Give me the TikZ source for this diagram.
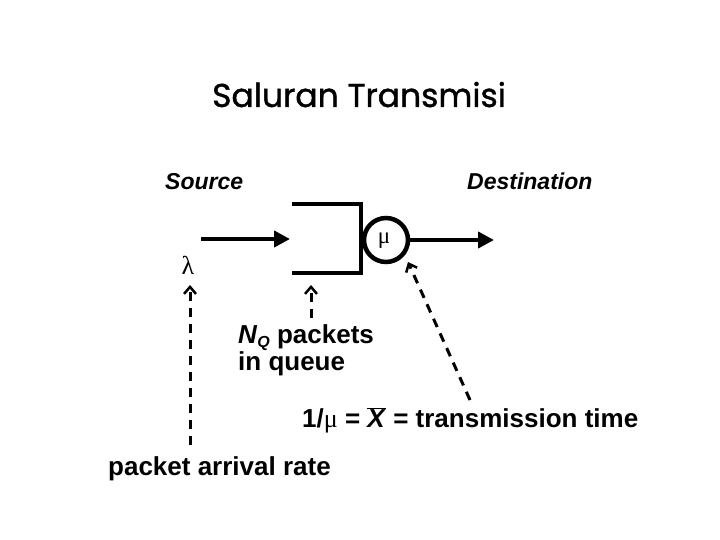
\documentclass[tikz,border=0pt]{standalone}
\usepackage{fontspec}
\setmainfont{Liberation Sans}
\newfontfamily\titlefont[FakeBold=1.2]{Poppins}
\newfontfamily\greekfont{Liberation Serif}
\usetikzlibrary{arrows.meta}
\tikzset{
  lbl/.style={font=\fontsize{26}{30}\selectfont\bfseries, inner sep=0pt, anchor=base west},
  ilbl/.style={font=\fontsize{23}{26}\selectfont\bfseries\itshape, inner sep=0pt, anchor=base west},
  thick line/.style={line width=4.5pt},
  solid arrow/.style={line width=4.5pt, -{Triangle[length=16pt,width=16pt]}},
  dash arrow/.style={line width=3pt, dash pattern=on 9pt off 7pt, -{Straight Barb[length=7pt,width=12pt,line width=2.5pt]}}
}
\begin{document}
\begin{tikzpicture}[x=1pt,y=-1pt]
\useasboundingbox (0,0) rectangle (720,540);
\node[font=\titlefont\fontsize{33}{38}\selectfont, inner sep=0pt, anchor=base] (title) at (359,107) {Saluran Transmisi};
\node[ilbl] (src) at (165,190) {Source};
\node[ilbl] (dst) at (467,190) {Destination};
% queue
\coordinate (qtl) at (292,204);
\coordinate (qtr) at (361,204);
\coordinate (qbr) at (361,273);
\coordinate (qbl) at (292,273);
\draw[thick line, line join=miter] (qtl) -- (qtr) -- (qbr) -- (qbl);
\node[circle, draw, line width=4.5pt, minimum size=44pt, inner sep=0pt] (srv) at (386,240) {};
\node[font=\greekfont\fontsize{23}{24}\selectfont] (mu) at (384,241) {μ};
\coordinate (in0) at (201,239);
\coordinate (in1) at (290,239);
\draw[solid arrow] (in0) -- (in1);
\coordinate (out1) at (494,240);
\draw[solid arrow] (srv.east) -- (out1);
\node[font=\greekfont\fontsize{26}{28}\selectfont] (lam) at (188,265) {λ};
% labels
\node[lbl, align=left, font=\fontsize{26}{27}\selectfont\bfseries] (nq) at (238,370) {\textit{N}\raisebox{-4pt}{\fontsize{16}{17}\selectfont\bfseries\itshape Q} packets\\in queue};
\node[lbl] (tt) at (302,427) {1/{\greekfont\mdseries μ} = $\overline{\mbox{\textit{X}}}$ = transmission time};
\node[lbl] (par) at (108,475) {packet arrival rate};
% dashed arrows
\coordinate (a0) at (190,445);
\coordinate (a1) at (190,285);
\draw[dash arrow] (a0) -- (a1);
\coordinate (b0) at (311,318);
\coordinate (b1) at (311,285);
\draw[dash arrow] (b0) -- (b1);
\coordinate (c0) at (470,400);
\coordinate (c1) at (408,262);
\draw[dash arrow] (c0) -- (c1);
\end{tikzpicture}
\end{document}
